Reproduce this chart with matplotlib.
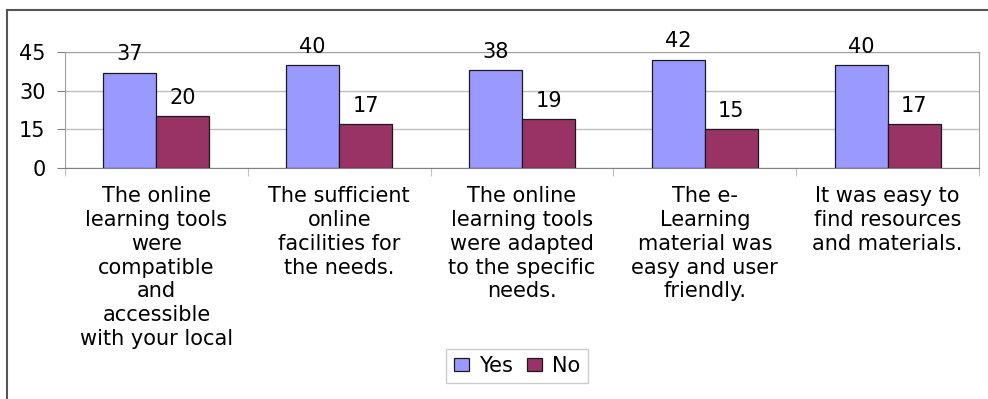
import matplotlib.pyplot as plt
import numpy as np

plt.rcParams['font.family'] = ['DejaVu Sans']

categories = ['The online\nlearning tools\nwere\ncompatible\nand\naccessible\nwith your local',
              'The sufficient\nonline\nfacilities for\nthe needs.',
              'The online\nlearning tools\nwere adapted\nto the specific\nneeds.',
              'The e-\nLearning\nmaterial was\neasy and user\nfriendly.',
              'It was easy to\nfind resources\nand materials.']
yes = [37, 40, 38, 42, 40]
no = [20, 17, 19, 15, 17]

fig = plt.figure(figsize=(9.88, 3.99), dpi=100)
ax = fig.add_axes([65/988, 1-168/399, (979-65)/988, 116/399])

x = np.arange(len(categories))
w = 0.29
b1 = ax.bar(x - w/2, yes, w, color='#9999FF', edgecolor='#1a1a1a', linewidth=0.9, label='Yes', zorder=3)
b2 = ax.bar(x + w/2, no, w, color='#993366', edgecolor='#1a1a1a', linewidth=0.9, label='No', zorder=3)
for bars in (b1, b2):
    for r in bars:
        ax.annotate(str(int(r.get_height())), (r.get_x() + r.get_width()/2, r.get_height()),
                    xytext=(0, 6), textcoords='offset points', ha='center', va='bottom',
                    fontsize=15, zorder=4)

ax.set_xlim(-0.5, 4.5)
ax.set_ylim(0, 45)
ax.set_yticks([0, 15, 30, 45])
ax.tick_params(axis='y', labelsize=15, length=6, color='#808080', pad=8)
ax.yaxis.grid(True, color='#c0c0c0', linewidth=1, zorder=0)
ax.set_xticks(np.arange(-0.5, 5, 1))
ax.set_xticklabels([])
ax.tick_params(axis='x', length=6, color='#c0c0c0')
for i, c in enumerate(categories):
    ax.text(i, -0.155, c, transform=ax.get_xaxis_transform(), ha='center', va='top',
            fontsize=15, linespacing=1.24)
for s in ax.spines.values():
    s.set_color('#a0a0a0')
ax.spines['bottom'].set_color('#808080')

leg = fig.legend(loc='center', bbox_to_anchor=(517/988, 1-366/399), ncol=2, fontsize=15,
                 frameon=True, fancybox=False, edgecolor='#c0c0c0', handlelength=0.72,
                 handleheight=0.58, handletextpad=0.5, columnspacing=0.65, borderpad=0.35)

# outer chart border (top and left)
fig.add_artist(plt.Line2D([7/988, 1], [1-10/399, 1-10/399], color='#555555', lw=1.5))
fig.add_artist(plt.Line2D([7/988, 7/988], [0, 1-10/399], color='#555555', lw=1.5))

fig.savefig('out.png', dpi=100)
